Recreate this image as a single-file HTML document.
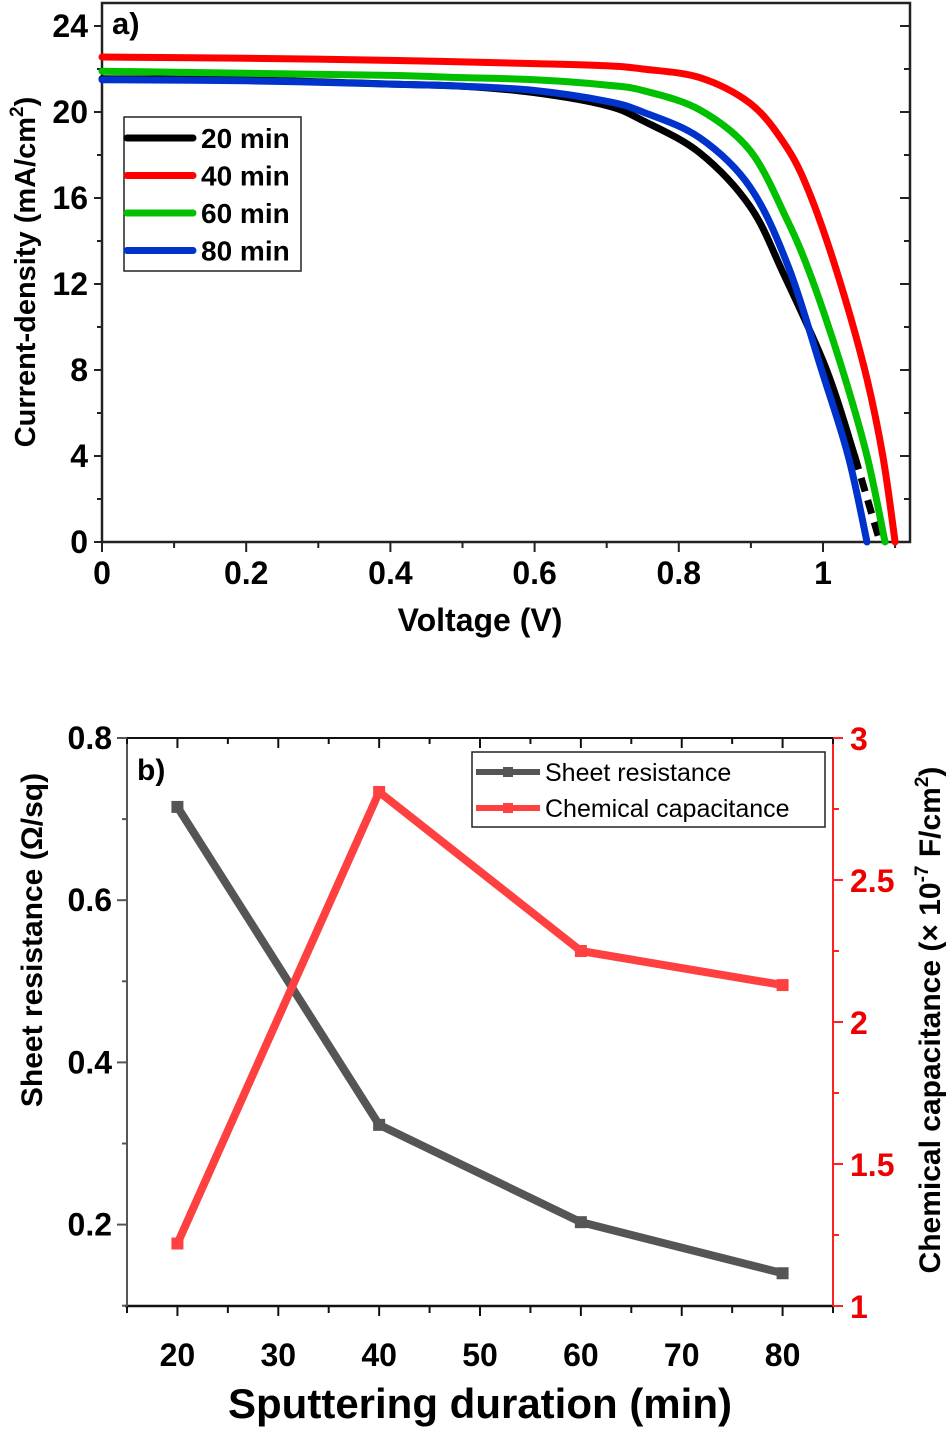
<!DOCTYPE html>
<html><head><meta charset="utf-8"><style>
html,body{margin:0;padding:0;background:#fff;}
svg{display:block;font-family:"Liberation Sans",Arial,sans-serif;}
</style></head><body>
<svg id="fig" width="950" height="1430" viewBox="0 0 950 1430" xmlns="http://www.w3.org/2000/svg">
<g id="chartA"></g>
<g id="chartB"></g>
</svg>
<script>
// ---------- Chart a data ----------
const seriesNames = ["20 min","40 min","60 min","80 min"];
const seriesColors = ["#000000","#ff0000","#00c000","#0033cc"];
const v20 = [0,0.2,0.4,0.5,0.6,0.7,0.75,0.829,0.899,0.945,1.005,1.044,1.079];
const j20 = [21.55,21.5,21.3,21.2,20.9,20.3,19.6,18.1,15.6,12.5,8.0,4.0,0];
const v40 = [0,0.2,0.4,0.6,0.7,0.75,0.829,0.899,0.945,0.978,1.018,1.058,1.083,1.10];
const j40 = [22.56,22.5,22.4,22.25,22.15,22.0,21.6,20.4,18.6,16.5,12.7,8.0,4.0,0];
const v60 = [0,0.2,0.4,0.5,0.6,0.7,0.75,0.829,0.899,0.95,0.985,1.027,1.061,1.086];
const j60 = [21.9,21.8,21.7,21.6,21.5,21.25,21.0,20.1,18.2,15.0,12.2,8.0,4.0,0];
const v80 = [0,0.2,0.4,0.5,0.6,0.7,0.75,0.829,0.899,0.952,0.998,1.035,1.061];
const j80 = [21.5,21.45,21.3,21.2,21.0,20.5,20.0,18.8,16.5,12.8,8.0,4.0,0];
const xTicksA = [0,0.2,0.4,0.6,0.8,1];
const xTickLabelsA = ["0","0.2","0.4","0.6","0.8","1"];
const yTicksA = [0,4,8,12,16,20,24];

// ---------- Chart b data ----------
const durations = [20,40,60,80];
const sheetRes = [0.715,0.323,0.203,0.140];
const chemCap = [1.22,2.81,2.25,2.13];
const xTicksB = [20,30,40,50,60,70,80];
const yTicksBL = [0.2,0.4,0.6,0.8];
const yTicksBR = [1,1.5,2,2.5,3];
const yTickLabelsBR = ["1","1.5","2","2.5","3"];

const NS="http://www.w3.org/2000/svg";
function mk(parent,tag,attrs,text){const e=document.createElementNS(NS,tag);for(const k in attrs)e.setAttribute(k,attrs[k]);if(text!==undefined)e.textContent=text;parent.appendChild(e);return e;}
function smooth(pts){let d='M'+pts[0][0].toFixed(1)+','+pts[0][1].toFixed(1);
 for(let i=0;i<pts.length-1;i++){const p0=pts[i-1]||pts[i],p1=pts[i],p2=pts[i+1],p3=pts[i+2]||p2;
  const c1=[p1[0]+(p2[0]-p0[0])/6,p1[1]+(p2[1]-p0[1])/6],c2=[p2[0]-(p3[0]-p1[0])/6,p2[1]-(p3[1]-p1[1])/6];
  d+=' C'+c1[0].toFixed(1)+','+c1[1].toFixed(1)+' '+c2[0].toFixed(1)+','+c2[1].toFixed(1)+' '+p2[0].toFixed(1)+','+p2[1].toFixed(1);}
 return d;}

// ===== Chart a =====
const A=document.getElementById('chartA');
const axL=102, axR=910, axT=3, axB=542;
const xA=v=>axL+v*721;
const yA=j=>axB-j*21.5;
mk(A,'rect',{x:axL,y:axT,width:axR-axL,height:axB-axT,fill:'none',stroke:'#222','stroke-width':2.5});
for(let i=0;i<=11;i++){const v=i*0.1;const x=xA(v);const major=i%2===0;
 const t=mk(A,'line',{x1:x,y1:axB,x2:x,y2:axB+(major?10:6),stroke:'#222','stroke-width':2});
 }
xTicksA.forEach((v,i)=>{const t=mk(A,'text',{x:xA(v),y:axB+42,'text-anchor':'middle','font-size':32,'font-weight':'bold'},xTickLabelsA[i]);
 });
for(let j=0;j<=24;j+=2){const y=yA(j);const major=j%4===0;
 mk(A,'line',{x1:axL,y1:y,x2:axL-(major?8:5),y2:y,stroke:'#222','stroke-width':2});
 mk(A,'line',{x1:axR,y1:y,x2:axR-(major?10:6),y2:y,stroke:'#222','stroke-width':2});}
yTicksA.forEach(j=>{const t=mk(A,'text',{x:88,y:yA(j)+11,'text-anchor':'end','font-size':32,'font-weight':'bold'},String(j));
 });
const xt=mk(A,'text',{x:480,y:631,'text-anchor':'middle','font-size':32,'font-weight':'bold'},'Voltage (V)');

const yt=mk(A,'text',{x:0,y:0,transform:'translate(35,272) rotate(-90)','text-anchor':'middle','font-size':29,'font-weight':'bold'});

yt.appendChild(document.createTextNode('Current-density (mA/cm'));
mk(yt,'tspan',{'font-size':19,dy:-12},'2');mk(yt,'tspan',{dy:12},')');
const panelA=mk(A,'text',{x:112,y:34,'font-size':31,'font-weight':'bold'},'a)');

const allV=[v20,v40,v60,v80], allJ=[j20,j40,j60,j80];
const order=[0,2,3,1];
function ptsOf(V,J){return V.map((v,i)=>[xA(v),yA(J[i])]);}
order.forEach(s=>{
 const V=allV[s], J=allJ[s];
 if(s===0){
  const cut=J.findIndex(j=>j<6);
  const p1=mk(A,'path',{d:smooth(ptsOf(V.slice(0,cut+1),J.slice(0,cut+1))),fill:'none',stroke:seriesColors[s],'stroke-width':7,'stroke-linejoin':'round','stroke-linecap':'round'});
  
  const p2=mk(A,'path',{d:smooth(ptsOf(V.slice(cut),J.slice(cut))),fill:'none',stroke:seriesColors[s],'stroke-width':7,'stroke-dasharray':'14,9'});
  
 } else {
  const p=mk(A,'path',{d:smooth(ptsOf(V,J)),fill:'none',stroke:seriesColors[s],'stroke-width':7,'stroke-linejoin':'round','stroke-linecap':'round'});
  
 }
});
const legA=mk(A,'g',{});

mk(legA,'rect',{x:124,y:117,width:177,height:154,fill:'#fff',stroke:'#222','stroke-width':1.5});
seriesNames.forEach((n,i)=>{const y=138+i*37.5;
 const l=mk(legA,'line',{x1:127,y1:y,x2:193,y2:y,stroke:seriesColors[i],'stroke-width':7,'stroke-linecap':'round'});
 
 const t=mk(legA,'text',{x:201,y:y+10,'font-size':28,'font-weight':'bold'},n);
 });

// ===== Chart b =====
const B=document.getElementById('chartB');
const bL=127,bR=833,bT=738,bB=1306;
const xB=d=>bL+(d-15)*10.086;
const yBL=r=>bT+(0.8-r)*811;
const yBR=c=>bT+(3-c)*284;
mk(B,'line',{x1:bL,y1:bT,x2:bR,y2:bT,stroke:'#111','stroke-width':2});
mk(B,'line',{x1:bL-2,y1:bB,x2:bR,y2:bB,stroke:'#111','stroke-width':2.5});
mk(B,'line',{x1:bL,y1:bT,x2:bL,y2:bB,stroke:'#555','stroke-width':2});
mk(B,'line',{x1:bR,y1:bT,x2:bR,y2:bB,stroke:'#ff2020','stroke-width':2});
for(let d=15;d<=85;d+=5){const x=xB(d);const major=d%10===0;
 mk(B,'line',{x1:x,y1:bB,x2:x,y2:bB+(major?10:7),stroke:'#111','stroke-width':2});
 mk(B,'line',{x1:x,y1:bT,x2:x,y2:bT+(major?10:6),stroke:'#111','stroke-width':2});}
xTicksB.forEach(d=>{const t=mk(B,'text',{x:xB(d),y:bB+60,'text-anchor':'middle','font-size':32,'font-weight':'bold'},String(d));
 });
for(let r=0.1;r<=0.801;r+=0.1){const y=yBL(r);const major=Math.round(r*10)%2===0;
 mk(B,'line',{x1:bL,y1:y,x2:bL-(major?10:5),y2:y,stroke:'#555','stroke-width':2});}
yTicksBL.forEach(r=>{const t=mk(B,'text',{x:112,y:yBL(r)+11,'text-anchor':'end','font-size':32,'font-weight':'bold'},r.toFixed(1));
 });
for(let c=1;c<=3.001;c+=0.25){const y=yBR(c);const major=Math.abs(c*2-Math.round(c*2))<0.01;
 mk(B,'line',{x1:bR,y1:y,x2:bR+(major?10:6),y2:y,stroke:'#ff2020','stroke-width':2});}
yTicksBR.forEach((c,i)=>{const t=mk(B,'text',{x:850,y:yBR(c)+12,'font-size':32,'font-weight':'bold',fill:'#ee0000'},yTickLabelsBR[i]);
 });
const xtb=mk(B,'text',{x:480,y:1418,'text-anchor':'middle','font-size':42,'font-weight':'bold'},'Sputtering duration (min)');

const ytl=mk(B,'text',{x:0,y:0,transform:'translate(42,940) rotate(-90)','text-anchor':'middle','font-size':30,'font-weight':'bold'},'Sheet resistance (Ω/sq)');

const ytr=mk(B,'text',{x:0,y:0,transform:'translate(940,1020) rotate(-90)','text-anchor':'middle','font-size':30,'font-weight':'bold'});

ytr.appendChild(document.createTextNode('Chemical capacitance (× 10'));
mk(ytr,'tspan',{'font-size':19,dy:-12},'-7');mk(ytr,'tspan',{dy:12},' F/cm');
mk(ytr,'tspan',{'font-size':19,dy:-12},'2');mk(ytr,'tspan',{dy:12},')');
const panelB=mk(B,'text',{x:137,y:780,'font-size':30,'font-weight':'bold'},'b)');

const sr=mk(B,'polyline',{points:durations.map((d,i)=>xB(d)+','+yBL(sheetRes[i])).join(' '),fill:'none',stroke:'#555','stroke-width':8,'stroke-linejoin':'round'});

durations.forEach((d,i)=>{const m=mk(B,'rect',{x:xB(d)-6,y:yBL(sheetRes[i])-6,width:12,height:12,fill:'#555'});
 });
const cc=mk(B,'polyline',{points:durations.map((d,i)=>xB(d)+','+yBR(chemCap[i])).join(' '),fill:'none',stroke:'#ff4040','stroke-width':8,'stroke-linejoin':'round'});

durations.forEach((d,i)=>{const m=mk(B,'rect',{x:xB(d)-6,y:yBR(chemCap[i])-6,width:12,height:12,fill:'#ff4040'});
 });
const legB=mk(B,'g',{});

mk(legB,'rect',{x:472,y:752,width:353,height:75,fill:'#fff',stroke:'#222','stroke-width':1.5});
[["Sheet resistance","#555"],["Chemical capacitance","#ff4040"]].forEach((e,i)=>{const y=772+i*36;
 const l=mk(legB,'line',{x1:476,y1:y,x2:540,y2:y,stroke:e[1],'stroke-width':6});
 
 mk(legB,'rect',{x:503,y:y-5,width:10,height:10,fill:e[1]});
 const t=mk(legB,'text',{x:545,y:y+9,'font-size':25},e[0]);
 });
</script>
</body></html>
